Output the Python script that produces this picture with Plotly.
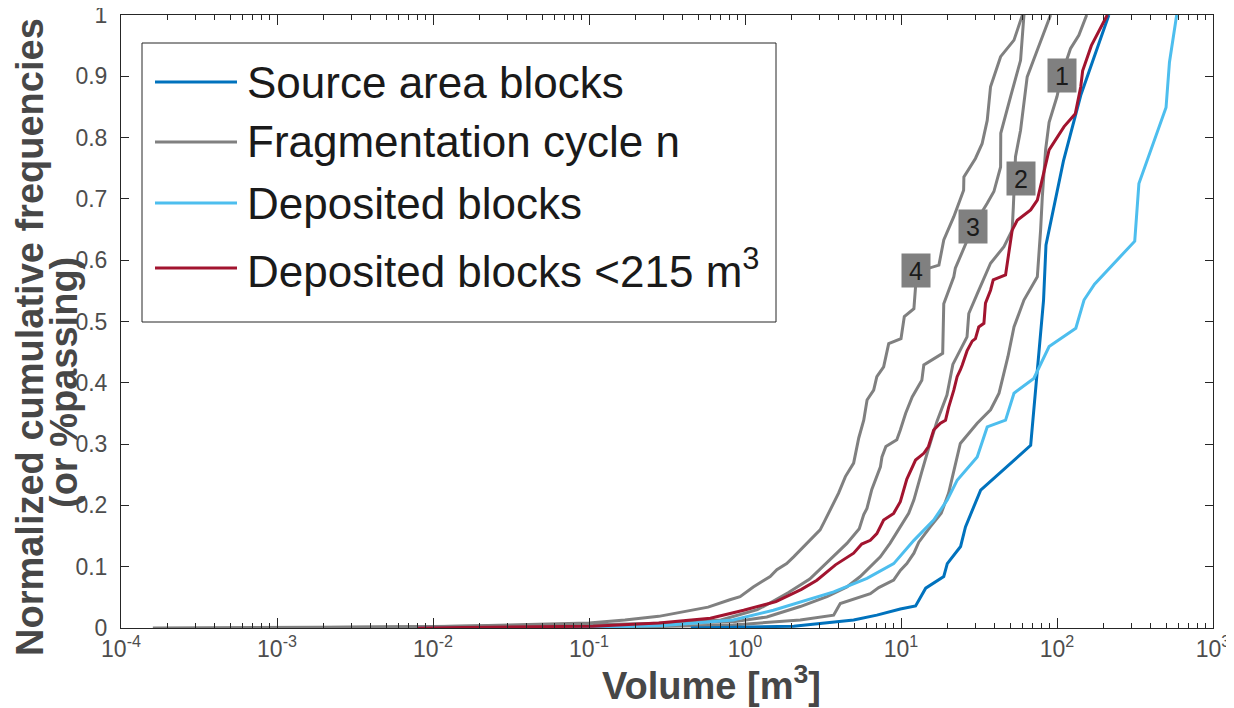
import math
import plotly.graph_objects as go

# ---------------- data (volume in m^3, normalized cumulative frequency) ----------------
src_vol = [0.45, 0.75, 2.05, 4.97, 7.0, 9.9, 12.4, 14.4, 18.8, 19.8, 24.1, 25.9, 32.4, 67.8, 82, 85, 110, 142, 215]
src_cf = [0, 0.001, 0.003, 0.013, 0.021, 0.031, 0.036, 0.065, 0.084, 0.105, 0.133, 0.165, 0.225, 0.298, 0.535, 0.625, 0.762, 0.869, 1.0]

dep_vol = [0.008, 0.1, 0.3, 0.84, 1.52, 2.49, 3.7, 6.05, 8.98, 12.1, 16.2, 19.8, 22.9, 30.8, 35.7, 46.8, 53, 71, 89, 132, 149, 174, 315, 335, 500, 526, 585]
dep_cf = [0, 0.001, 0.004, 0.013, 0.029, 0.046, 0.059, 0.081, 0.105, 0.143, 0.176, 0.209, 0.241, 0.279, 0.328, 0.339, 0.383, 0.407, 0.459, 0.489, 0.535, 0.561, 0.631, 0.725, 0.849, 0.923, 1.0]

dep215_vol = [0.008, 0.106, 0.28, 0.6, 0.98, 1.58, 2.3, 2.89, 3.8, 4.97, 5.6, 6.36, 7.0, 7.74, 8.97, 9.9, 10.9, 12.1, 12.4, 14.0,
              15.0, 16.2, 17.9, 19.3, 20.2, 21.8, 22.9, 24.0, 24.7, 26.5, 28.6, 30, 31.5, 34, 34.8, 37.5, 39, 46.8, 49.2, 51.6,
              55.6, 67.8, 74.8, 78.5, 84.5, 89, 111, 131, 142, 146, 166, 210]
dep215_cf = [0, 0.003, 0.008, 0.016, 0.029, 0.043, 0.063, 0.078, 0.103, 0.122, 0.137, 0.143, 0.154, 0.176, 0.187, 0.206, 0.243, 0.266, 0.274, 0.285,
             0.296, 0.323, 0.334, 0.339, 0.36, 0.388, 0.41, 0.421, 0.429, 0.452, 0.468, 0.472, 0.491, 0.497, 0.53, 0.551, 0.568, 0.576, 0.616, 0.649,
             0.665, 0.682, 0.698, 0.72, 0.752, 0.78, 0.818, 0.839, 0.883, 0.909, 0.95, 1.0]

cyc1_vol = [0.1, 0.84, 2.26, 3.7, 4.08, 6.36, 7.2, 8.97, 9.9, 10.9, 12.1, 13.0, 15.4, 18.1, 20.2, 21.8, 24.0, 30.8, 37.5, 40.4,
            42.5, 48.5, 50.4, 53, 61.4, 74.8, 78.5, 80.5, 84.5, 89, 100, 107, 122, 138, 155]
cyc1_cf = [0, 0.005, 0.013, 0.021, 0.04, 0.056, 0.066, 0.078, 0.094, 0.105, 0.122, 0.14, 0.165, 0.187, 0.22, 0.255, 0.301, 0.334, 0.356, 0.372,
           0.383, 0.443, 0.464, 0.491, 0.535, 0.573, 0.649, 0.703, 0.78, 0.825, 0.867, 0.902, 0.945, 0.967, 1.0]

cyc2_vol = [0.01, 0.84, 1.38, 2.26, 3.35, 4.5, 5.48, 6.36, 7.37, 8.5, 9.9, 11.2, 12.1, 12.7, 13.6, 14.9, 17.0, 19.7, 21.5, 26.5,
            27.2, 30.8, 37.5, 45.7, 51.6, 52.5, 53.5, 54.2, 58.4, 64.4, 74.8, 91]
cyc2_cf = [0, 0.01, 0.018, 0.035, 0.051, 0.067, 0.084, 0.1, 0.116, 0.138, 0.165, 0.187, 0.209, 0.23, 0.255, 0.29, 0.337, 0.38, 0.43, 0.475,
           0.513, 0.545, 0.595, 0.622, 0.649, 0.687, 0.73, 0.769, 0.812, 0.899, 0.943, 1.0]

cyc3_vol = [0.001, 0.3, 0.7, 1.2, 1.38, 1.9, 2.6, 3.3, 3.88, 4.5, 5.4, 5.77, 6.05, 6.5, 7.38, 7.55, 8.0, 9.4, 9.9, 10.7,
            11.8, 13.6, 14.0, 18.5, 18.8, 21.8, 22.3, 25.9, 29, 35.7, 39.4, 43.5, 43.6, 50.4, 58.4, 61.4]
cyc3_cf = [0, 0.006, 0.013, 0.03, 0.038, 0.058, 0.08, 0.105, 0.122, 0.138, 0.162, 0.185, 0.195, 0.226, 0.263, 0.279, 0.296, 0.307, 0.323, 0.35,
           0.377, 0.404, 0.429, 0.448, 0.529, 0.573, 0.587, 0.627, 0.655, 0.693, 0.712, 0.752, 0.807, 0.867, 0.926, 1.0]

cyc4_vol = [1.6e-4, 0.01, 0.1, 0.17, 0.28, 0.58, 0.8, 0.93, 1.13, 1.45, 1.6, 1.85, 2.05, 2.26, 2.49, 3.03, 3.19, 3.52, 3.98, 4.4,
            4.97, 5.36, 5.77, 6.06, 6.68, 7.0, 7.74, 8.34, 10.0, 10.5, 12.1, 12.4, 15.1, 17.5, 18.8, 21.8, 25.2, 25.3, 30, 33.1,
            35.7, 37.5, 43.5, 53, 60]
cyc4_cf = [0, 0.002, 0.008, 0.013, 0.019, 0.034, 0.046, 0.051, 0.067, 0.084, 0.095, 0.105, 0.116, 0.127, 0.138, 0.16, 0.171, 0.192, 0.22, 0.247,
           0.269, 0.31, 0.339, 0.372, 0.388, 0.41, 0.426, 0.464, 0.472, 0.508, 0.521, 0.557, 0.587, 0.592, 0.633, 0.671, 0.714, 0.736, 0.766, 0.79,
           0.828, 0.883, 0.932, 0.959, 1.0]

cycle_labels = ["1", "2", "3", "4"]
label_vol = [107, 58.4, 29, 12.4]
label_cf = [0.902, 0.733, 0.655, 0.584]

legend_names = ["Source area blocks", "Fragmentation cycle n", "Deposited blocks", "Deposited blocks <215 m<sup>3</sup>"]

x_exponents = [-4, -3, -2, -1, 0, 1, 2, 3]
y_ticks = [0, 0.1, 0.2, 0.3, 0.4, 0.5, 0.6, 0.7, 0.8, 0.9, 1]
y_ticktext = ["0", "0.1", "0.2", "0.3", "0.4", "0.5", "0.6", "0.7", "0.8", "0.9", "1"]

# ---------------- style ----------------
BLUE = "#0072BD"
LIGHT = "#4DBEEE"
RED = "#A2142F"
GRAY = "#808080"
AXC = "#262626"
TICKC = "#4D4D4D"
FONT = "Liberation Sans, Arial, Helvetica, sans-serif"
LW = 3

fig = go.Figure()
for vol, cf in [(cyc1_vol, cyc1_cf), (cyc2_vol, cyc2_cf), (cyc3_vol, cyc3_cf), (cyc4_vol, cyc4_cf)]:
    fig.add_trace(go.Scatter(x=vol, y=cf, mode="lines", line=dict(color=GRAY, width=LW),
                             name="Fragmentation cycle n", showlegend=False))
fig.add_trace(go.Scatter(x=src_vol, y=src_cf, mode="lines", line=dict(color=BLUE, width=LW),
                         name="Source area blocks", showlegend=False))
fig.add_trace(go.Scatter(x=dep_vol, y=dep_cf, mode="lines", line=dict(color=LIGHT, width=LW),
                         name="Deposited blocks", showlegend=False))
fig.add_trace(go.Scatter(x=dep215_vol, y=dep215_cf, mode="lines", line=dict(color=RED, width=LW),
                         name="Deposited blocks <215 m3", showlegend=False))

# cycle labels (gray boxes)
for t, xv, yv in zip(cycle_labels, label_vol, label_cf):
    fig.add_annotation(x=math.log10(xv), y=yv, xref="x", yref="y", text=t, showarrow=False,
                       bgcolor=GRAY, width=28, height=33, borderpad=0,
                       font=dict(family=FONT, size=25, color="#1a1a1a"))

# page-pixel -> paper coordinates (plot area spans page px 121..1213 x 15..628)
W, H = 1092.0, 613.0
def px2paper_x(px):
    return (px - 121) / W
def px2paper_y(py):
    return (628 - py) / H

# custom legend (box + line samples + text)
fig.add_shape(type="rect", xref="paper", yref="paper",
              x0=px2paper_x(142), x1=px2paper_x(776), y0=px2paper_y(322), y1=px2paper_y(43),
              line=dict(color=AXC, width=1), fillcolor="white", layer="above")
legend_colors = [BLUE, GRAY, LIGHT, RED]
legend_rows = [82, 142, 203, 268]
for name, col, row in zip(legend_names, legend_colors, legend_rows):
    fig.add_shape(type="line", xref="paper", yref="paper",
                  x0=px2paper_x(155), x1=px2paper_x(237), y0=px2paper_y(row), y1=px2paper_y(row),
                  line=dict(color=col, width=LW), layer="above")
    fig.add_annotation(x=px2paper_x(245), y=px2paper_y(row), xref="paper", yref="paper",
                       xanchor="left", yanchor="middle", showarrow=False, text=name,
                       font=dict(family=FONT, size=44, color="#1a1a1a"))

# axis titles as annotations
TITLE_C = "#474747"
fig.add_annotation(x=px2paper_x(711), y=px2paper_y(683), xref="paper", yref="paper",
                   text="<b>Volume [m<sup>3</sup>]</b>", showarrow=False, xanchor="center", yanchor="middle",
                   font=dict(family=FONT, size=38, color=TITLE_C))
fig.add_annotation(x=px2paper_x(30), y=px2paper_y(337), xref="paper", yref="paper",
                   text="<b>Normalized cumulative frequencies</b>", showarrow=False, textangle=-90,
                   xanchor="center", yanchor="middle", font=dict(family=FONT, size=38, color=TITLE_C))
fig.add_annotation(x=px2paper_x(64), y=px2paper_y(383), xref="paper", yref="paper",
                   text="<b>(or %passing)</b>", showarrow=False, textangle=-90,
                   xanchor="center", yanchor="middle", font=dict(family=FONT, size=38, color=TITLE_C))

major_x = [10.0 ** e for e in x_exponents]
major_x_text = ["10<sup>%d</sup>" % e for e in x_exponents]
minor_x = [m * 10.0 ** e for e in x_exponents[:-1] for m in range(2, 10)]

fig.update_xaxes(type="log", range=[-4, 3], tickmode="array", tickvals=major_x, ticktext=major_x_text,
                 ticks="inside", ticklen=10, tickwidth=1, tickcolor=AXC,
                 minor=dict(tickmode="array", tickvals=minor_x, ticks="inside", ticklen=5, tickwidth=1,
                            tickcolor=AXC, showgrid=False),
                 showline=True, linecolor=AXC, linewidth=1, mirror="ticks", showgrid=False, zeroline=False,
                 tickfont=dict(family=FONT, size=23, color=TICKC), ticklabeloverflow="allow",
                 automargin=False)
fig.update_yaxes(range=[0, 1], tickmode="array", tickvals=y_ticks, ticktext=y_ticktext,
                 ticks="inside", ticklen=8, tickwidth=1, tickcolor=AXC,
                 showline=True, linecolor=AXC, linewidth=1, mirror="ticks", showgrid=False, zeroline=False,
                 tickfont=dict(family=FONT, size=23, color=TICKC), ticklabelstandoff=8,
                 ticklabeloverflow="allow", automargin=False)

# the page body adds an 8 px offset, so the figure is 8 px smaller and margins shifted accordingly
fig.update_layout(width=1226, height=700, margin=dict(l=113, r=21, t=7, b=80),
                  paper_bgcolor="white", plot_bgcolor="white", showlegend=False,
                  font=dict(family=FONT))

fig.write_html("out.html")
